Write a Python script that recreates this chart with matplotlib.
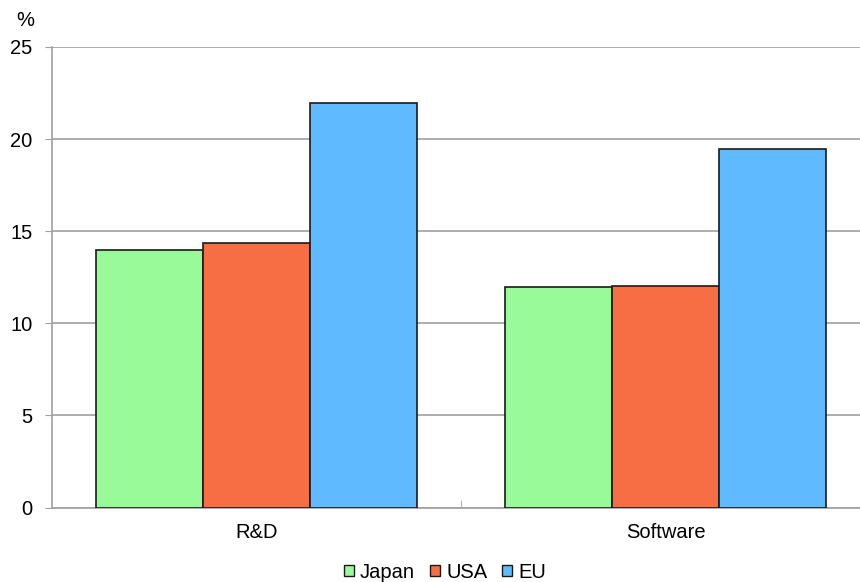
import matplotlib.pyplot as plt
import numpy as np
from matplotlib.patches import Patch

plt.rcParams['font.family'] = ['Liberation Sans', 'DejaVu Sans']

categories = ['R&D', 'Software']
series = ['Japan', 'USA', 'EU']
japan = [14.0, 11.97]
usa = [14.38, 12.04]
eu = [21.96, 19.45]
colors = ['#98FA98', '#F76E45', '#60BAFF']

fig = plt.figure(figsize=(8.6, 5.82), dpi=100)
# plot area runs a little past the right edge of the figure
ax = fig.add_axes([52 / 860, 1 - 507.5 / 582, 818 / 860, 460.5 / 582])

x = np.arange(len(categories))
width = 0.262
for i, (vals, c) in enumerate(zip([japan, usa, eu], colors)):
    ax.bar(x + (i - 1) * width, vals, width, color=c, edgecolor='#1a1a1a',
           linewidth=1.2, zorder=3)

ax.set_xlim(-0.5, 1.5)
ax.set_ylim(0, 25)
ax.set_yticks(range(0, 26, 5))
ax.yaxis.grid(True, color='#a0a0a0', linewidth=1.2, zorder=0)
ax.set_xticks(x)
ax.set_xticklabels(categories, fontsize=14.5)
ax.tick_params(axis='x', length=0, pad=11)
ax.set_xticks([0.5], minor=True)
ax.tick_params(axis='x', which='minor', direction='in', length=6, color='#a0a0a0')
ax.tick_params(axis='y', labelsize=14.5, length=5, color='#a0a0a0', pad=9)

for s in ['top', 'right']:
    ax.spines[s].set_visible(False)
for s in ['left', 'bottom']:
    ax.spines[s].set_color('#a0a0a0')
    ax.spines[s].set_linewidth(1.2)

fig.text(25 / 860, 1 - 20 / 582, '%', fontsize=14.5, ha='center', va='center')

handles = [Patch(facecolor=c, edgecolor='#1a1a1a', linewidth=1.0) for c in colors]
fig.legend(handles, series, loc='center', bbox_to_anchor=(445 / 860, 1 - 572 / 582),
           ncol=3, frameon=False, fontsize=14.5, handlelength=0.5, handleheight=0.5,
           handletextpad=0.3, columnspacing=0.75, borderpad=0)

fig.savefig('out.png', dpi=100)
